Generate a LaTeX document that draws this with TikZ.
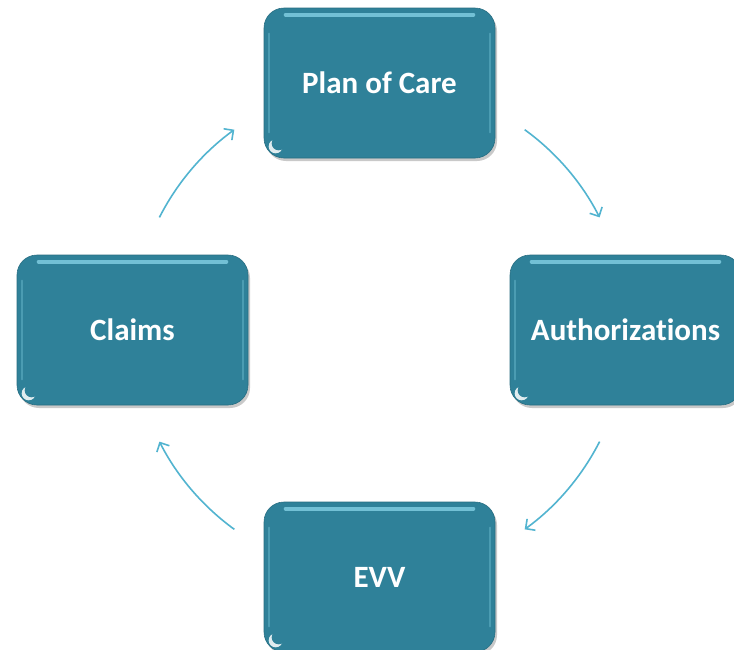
\documentclass[tikz,border=0pt]{standalone}
\usepackage{fontspec}
\setmainfont[Ligatures={NoCommon}]{Carlito}
\usetikzlibrary{arrows.meta,shadows}
\definecolor{boxteal}{HTML}{2F8199}
\definecolor{gloss}{HTML}{8FDCEF}
\definecolor{arrowblue}{HTML}{52B4D0}
\tikzset{
  cyclebox/.style={draw=boxteal!85!black, line width=0.6pt, fill=boxteal, rounded corners=20pt,
    minimum width=231pt, minimum height=150pt, inner sep=0pt,
    text=white, font=\bfseries\fontsize{31pt}{36pt}\selectfont,
    drop shadow={shadow xshift=2pt, shadow yshift=-3pt, opacity=0.35, fill=black!60}},
  cyclearrow/.style={draw=arrowblue, line width=1.6pt, -{Straight Barb[length=7pt,width=14pt,line width=1.6pt]}},
  toplight/.style={draw=gloss, line width=4pt, line cap=round, opacity=0.7},
  sidelight/.style={draw=gloss, line width=2pt, line cap=round, opacity=0.3},
}
\newcommand{\glosson}[1]{%
  \draw[toplight] ([xshift=22pt,yshift=-7pt]#1.north west) -- ([xshift=-22pt,yshift=-7pt]#1.north east);
  \draw[sidelight] ([xshift=5pt,yshift=-26pt]#1.north west) -- ([xshift=5pt,yshift=26pt]#1.south west);
  \draw[sidelight] ([xshift=-5pt,yshift=-26pt]#1.north east) -- ([xshift=-5pt,yshift=26pt]#1.south east);
  \fill[white, opacity=0.85] ([xshift=12pt,yshift=12pt]#1.south west) circle (7pt);
  \fill[boxteal] ([xshift=15pt,yshift=15pt]#1.south west) circle (7pt);
}
\begin{document}
\begin{tikzpicture}[x=1pt,y=-1pt]
\useasboundingbox (0,0) rectangle (734,649);
\clip (0,0) rectangle (734,649);
\fill[white] (0,0) rectangle (734,649);
\node[cyclebox] (plan) at (379.5,83) {Plan of Care};
\node[cyclebox] (auth) at (625.5,330) {Authorizations};
\node[cyclebox] (evv) at (379.5,577) {EVV};
\node[cyclebox] (claims) at (132.5,330) {Claims};
\glosson{plan}
\glosson{auth}
\glosson{evv}
\glosson{claims}
\coordinate (c) at (379.5,329.5);
\begin{scope}[y=1pt]
\draw[cyclearrow] (c) ++(54:247) arc[start angle=54, end angle=27, radius=247];
\draw[cyclearrow] (c) ++(-27:247) arc[start angle=-27, end angle=-54, radius=247];
\draw[cyclearrow] (c) ++(-126:247) arc[start angle=-126, end angle=-153, radius=247];
\draw[cyclearrow] (c) ++(153:247) arc[start angle=153, end angle=126, radius=247];
\end{scope}
\end{tikzpicture}
\end{document}
